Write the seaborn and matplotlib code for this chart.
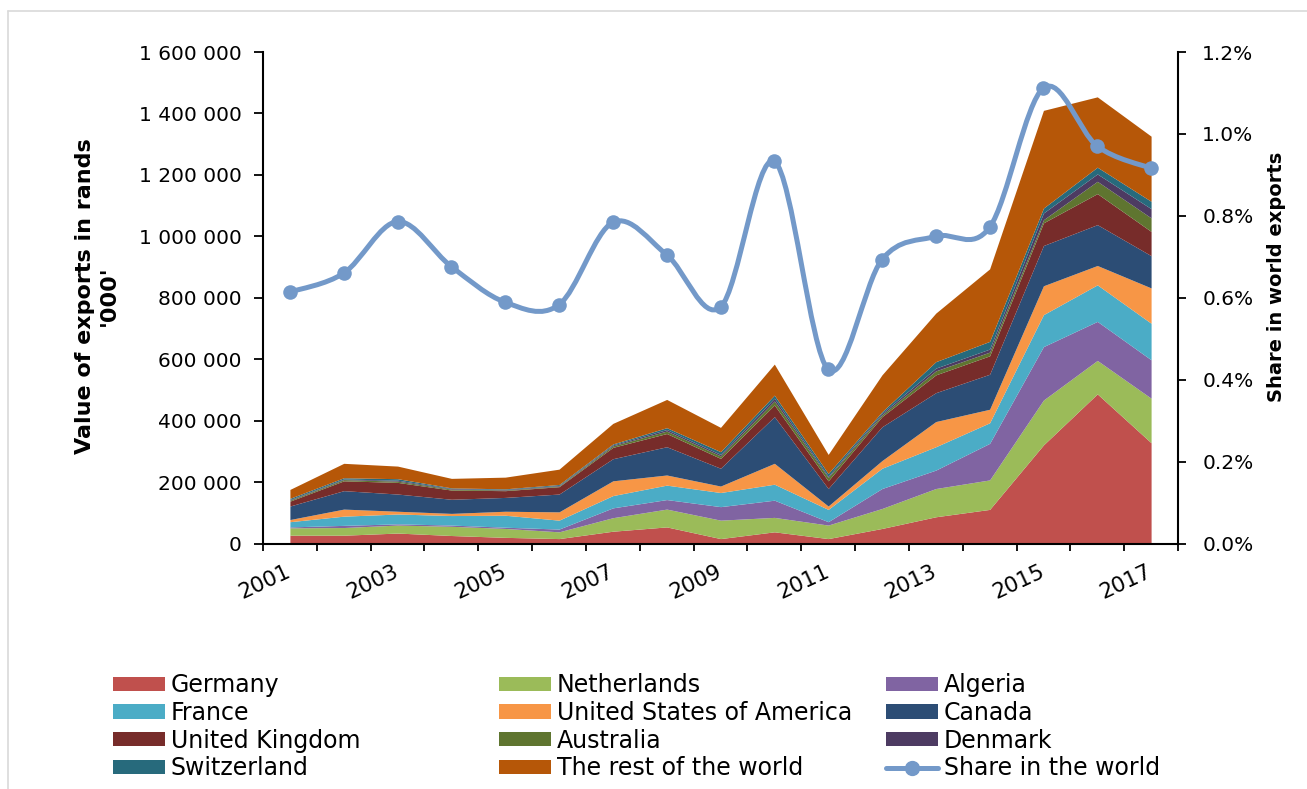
import numpy as np
import matplotlib
matplotlib.use("Agg")
import matplotlib.pyplot as plt
import matplotlib.transforms as mtransforms
import seaborn as sns
from matplotlib.path import Path
from matplotlib.patches import PathPatch, Patch
from matplotlib.lines import Line2D
from matplotlib.ticker import FuncFormatter, FixedLocator

# ---------------- data ('000 rands) ----------------
years = [2001, 2002, 2003, 2004, 2005, 2006, 2007, 2008, 2009,
         2010, 2011, 2012, 2013, 2014, 2015, 2016, 2017]

germany = [27000, 27000, 34000, 26000, 20000, 16000, 40000, 54000, 16000,
           38000, 16000, 49000, 87000, 111000, 321000, 487000, 328000]
netherlands = [24000, 25000, 26000, 30000, 29000, 22000, 44000, 58000, 60000,
               47000, 44000, 65000, 92000, 96000, 146000, 109000, 145000]
algeria = [3000, 7000, 4000, 4000, 4000, 9000, 32000, 31000, 44000,
           56000, 11000, 65000, 60000, 119000, 174000, 127000, 125000]
france = [17000, 30000, 32000, 31000, 39000, 29000, 40000, 47000, 46000,
          52000, 40000, 66000, 76000, 67000, 104000, 119000, 119000]
usa = [7000, 23000, 9000, 7000, 13000, 27000, 48000, 33000, 21000,
       68000, 11000, 25000, 82000, 44000, 94000, 63000, 115000]
canada = [44000, 60000, 56000, 46000, 45000, 58000, 72000, 92000, 58000,
          152000, 57000, 110000, 94000, 114000, 131000, 133000, 105000]
united_kingdom = [16000, 32000, 38000, 30000, 22000, 24000, 37000, 43000, 32000,
                  38000, 25000, 33000, 58000, 60000, 74000, 101000, 79000]
australia = [3000, 4000, 4000, 3000, 2000, 2000, 5000, 8000, 8000,
             13000, 11000, 6000, 13000, 12000, 10000, 40000, 44000]
denmark = [2000, 2000, 3000, 2000, 2000, 2000, 3000, 5000, 5000,
           9000, 4000, 5000, 9000, 10000, 22000, 24000, 30000]
switzerland = [4000, 4000, 5000, 2000, 2000, 3000, 3000, 6000, 9000,
               10000, 9000, 5000, 21000, 25000, 16000, 22000, 24000]
rest_of_world = [29000, 47000, 41000, 31000, 38000, 50000, 67000, 92000, 79000,
                 101000, 62000, 120000, 158000, 236000, 318000, 229000, 212000]

share_pct = [0.614, 0.660, 0.786, 0.676, 0.589, 0.583, 0.784, 0.705, 0.577,
             0.933, 0.425, 0.693, 0.750, 0.772, 1.112, 0.970, 0.916]

series_names = ["Germany", "Netherlands", "Algeria", "France",
                "United States of America", "Canada", "United Kingdom",
                "Australia", "Denmark", "Switzerland", "The rest of the world"]
series_values = [germany, netherlands, algeria, france, usa, canada,
                 united_kingdom, australia, denmark, switzerland, rest_of_world]
colors = ["#C0504D", "#9BBB59", "#8064A2", "#4BACC6", "#F79646", "#2C4D75",
          "#772C2A", "#5F7530", "#4D3B62", "#276A7C", "#B65708"]
line_color = "#7399C9"
line_name = "Share in the world"

# ---------------- figure ----------------
sns.set_style("white")
plt.rcParams["font.family"] = ["DejaVu Sans"]
plt.rcParams["text.color"] = "black"
plt.rcParams["xtick.color"] = "black"
plt.rcParams["ytick.color"] = "black"
plt.rcParams["axes.labelcolor"] = "black"

W, H = 1307, 789
fig = plt.figure(figsize=(W / 100, H / 100), dpi=100)
ax = fig.add_axes([263 / W, 1 - 543.5 / H, (1178 - 263) / W, (543.5 - 52) / H])

xpos = np.arange(len(years))
ax.stackplot(xpos, *[np.asarray(v, dtype=float) for v in series_values],
             colors=colors, linewidth=0)
ax.set_xlim(-0.5, len(years) - 0.5)
ax.set_ylim(0, 1600000)

# spines
for s in ["top", "right"]:
    ax.spines[s].set_visible(False)
for s in ["left", "bottom"]:
    ax.spines[s].set_color("black")
    ax.spines[s].set_linewidth(1.5)

# left y ticks
ax.yaxis.set_major_locator(FixedLocator(np.arange(0, 1600001, 200000)))
ax.yaxis.set_major_formatter(FuncFormatter(lambda v, p: f"{int(v):,}".replace(",", " ")))
ax.tick_params(axis="y", which="major", direction="out", length=6.5, width=1.3,
               pad=9, labelsize=14.5, colors="black", left=True)

# x ticks: boundaries (major, no label) + labels at centres (minor)
ax.set_xticks(np.arange(-0.5, len(years), 1.0))
ax.set_xticklabels([])
ax.tick_params(axis="x", which="major", direction="out", length=5, width=1.3,
               bottom=True, color="black")
lab_pos = xpos[::2]
ax.set_xticks(lab_pos, minor=True)
ax.set_xticklabels([str(years[i]) for i in lab_pos], minor=True)
ax.tick_params(axis="x", which="minor", length=0, pad=13, labelsize=15.5,
               labelcolor="black")
shift = mtransforms.ScaledTranslation(4 / 100, 0, fig.dpi_scale_trans)
for t in ax.get_xticklabels(minor=True):
    t.set_rotation(25)
    t.set_ha("right")
    t.set_va("top")
    t.set_color("black")
    t.set_transform(t.get_transform() + shift)

# secondary axis: share
ax2 = ax.twinx()
pts = np.column_stack([xpos.astype(float), np.asarray(share_pct, dtype=float)])
n = len(pts)
verts = [pts[0]]
codes = [Path.MOVETO]
for i in range(n - 1):
    p0 = pts[max(i - 1, 0)]
    p1 = pts[i]
    p2 = pts[i + 1]
    p3 = pts[min(i + 2, n - 1)]
    c1 = p1 + (p2 - p0) / 6.0
    c2 = p2 - (p3 - p1) / 6.0
    verts += [c1, c2, p2]
    codes += [Path.CURVE4] * 3
curve = PathPatch(Path(verts, codes), facecolor="none", edgecolor=line_color,
                  lw=3.6, capstyle="round", joinstyle="round",
                  transform=ax2.transData, zorder=3)
ax2.add_patch(curve)
sns.scatterplot(x=xpos, y=share_pct, ax=ax2, s=110, color=line_color,
                edgecolor=line_color, linewidth=0, zorder=4, legend=False)
ax2.set_xlim(-0.5, len(years) - 0.5)
ax2.set_ylim(0, 1.2)
ax2.set_ylabel("")
ax2.set_xlabel("")
for s in ["top", "left", "bottom"]:
    ax2.spines[s].set_visible(False)
ax2.spines["right"].set_visible(True)
ax2.spines["right"].set_color("black")
ax2.spines["right"].set_linewidth(1.5)
ax2.yaxis.set_major_locator(FixedLocator(np.arange(0, 1.21, 0.2)))
ax2.yaxis.set_major_formatter(FuncFormatter(lambda v, p: f"{v:.1f}%"))
ax2.tick_params(axis="y", which="major", direction="out", length=5.5, width=1.3,
                pad=12, labelsize=14.5, colors="black", right=True)

# axis titles
fig.text(97 / W, 1 - 296 / H, "Value of exports in rands\n'000'", rotation=90,
         ha="center", va="center", fontsize=16, fontweight="bold",
         multialignment="center", linespacing=1.25, color="black")
fig.text(1276 / W, 1 - 277 / H, "Share in world exports", rotation=90,
         ha="center", va="center", fontsize=14, fontweight="bold", color="black")

# legend: three columns, row-major order as in reference
handles = [Patch(facecolor=c, edgecolor="none") for c in colors]
handles.append(Line2D([], [], color=line_color, lw=3.6, marker="o", ms=10))
labels = series_names + [line_name]
cols_x = [113, 499, 886]
for ci in range(3):
    idx = list(range(ci, 12, 3))
    leg = fig.legend([handles[i] for i in idx], [labels[i] for i in idx],
                     loc="upper left", bbox_to_anchor=(cols_x[ci] / W, 1 - 673 / H),
                     bbox_transform=fig.transFigure, frameon=False, fontsize=17,
                     handlelength=2.2, handleheight=0.55, handletextpad=0.25,
                     labelspacing=0.16, borderpad=0, borderaxespad=0)
    for t in leg.get_texts():
        t.set_color("black")

# light chart border
fig.add_artist(Line2D([7.5 / W, 7.5 / W], [0, 1 - 11 / H], transform=fig.transFigure,
                      color="#D9D9D9", lw=1.2))
fig.add_artist(Line2D([7.5 / W, 1], [1 - 11 / H, 1 - 11 / H], transform=fig.transFigure,
                      color="#D9D9D9", lw=1.2))

fig.savefig("out.png", dpi=100)
